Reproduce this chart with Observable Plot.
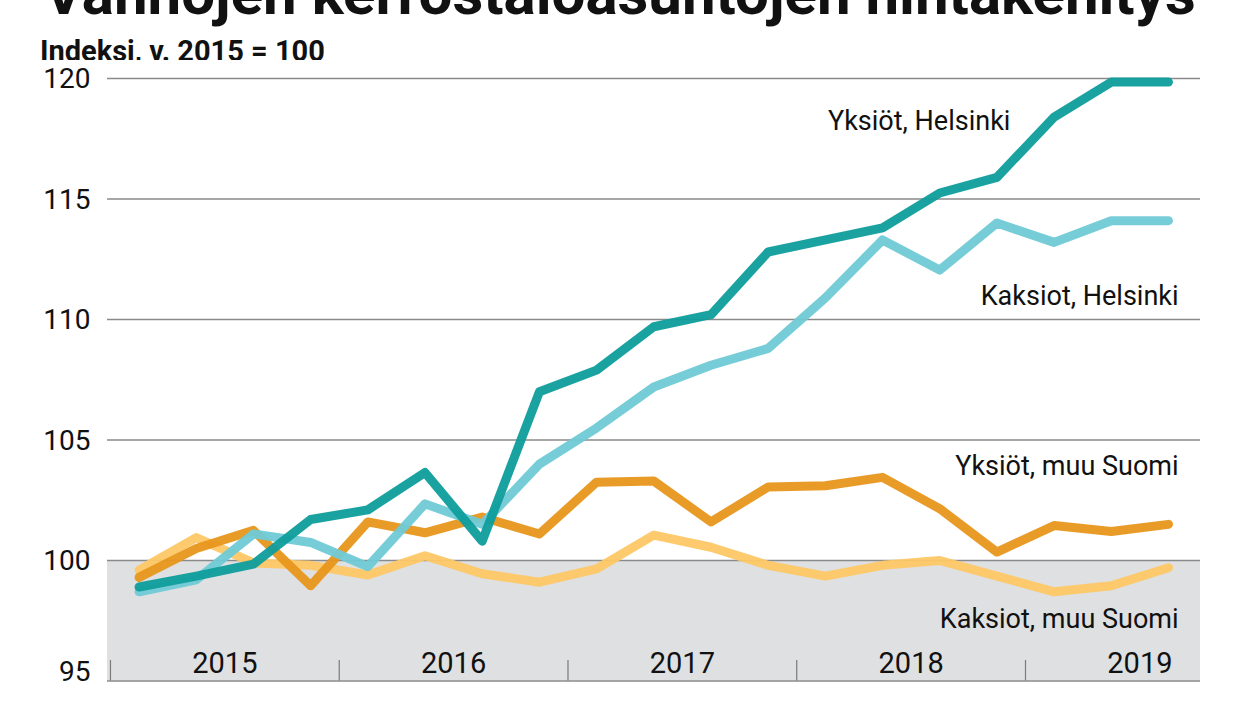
<!DOCTYPE html>
<html>
<head>
<meta charset="utf-8">
<script src="https://cdn.jsdelivr.net/npm/d3@7"></script>
<script src="https://cdn.jsdelivr.net/npm/@observablehq/plot@0.6"></script>
<style>
  html, body { margin: 0; padding: 0; background: #fff; }
  body { width: 1248px; height: 702px; position: relative; overflow: hidden; font-family: Roboto, "Noto Sans", sans-serif; color: #111; }
  #title { position: absolute; left: 44px; top: -36px; font: 700 60px/1 Roboto, sans-serif; white-space: nowrap; }
  #subtitle { position: absolute; left: 40px; top: 37px; font: 700 29px/1 Roboto, sans-serif; white-space: nowrap; }
  #chart { position: absolute; left: 0; top: 60px; }
</style>
</head>
<body>
<div id="title">Vanhojen kerrostaloasuntojen hintakehitys</div>
<div id="subtitle">Indeksi, v. 2015 = 100</div>
<div id="chart"></div>
<script>
const quarters = ["2015Q1","2015Q2","2015Q3","2015Q4","2016Q1","2016Q2","2016Q3","2016Q4","2017Q1","2017Q2","2017Q3","2017Q4","2018Q1","2018Q2","2018Q3","2018Q4","2019Q1","2019Q2","2019Q3"];
const yksiotHelsinki = [98.9, 99.35, 99.85, 101.7, 102.1, 103.65, 100.8, 107.0, 107.9, 109.7, 110.2, 112.8, 113.3, 113.8, 115.25, 115.9, 118.4, 119.85, 119.85];
const kaksiotHelsinki = [98.7, 99.2, 101.1, 100.75, 99.75, 102.35, 101.5, 104.0, 105.5, 107.2, 108.1, 108.8, 110.9, 113.3, 112.05, 114.0, 113.2, 114.1, 114.1];
const yksiotMuuSuomi = [99.3, 100.5, 101.25, 98.95, 101.6, 101.15, 101.8, 101.1, 103.25, 103.3, 101.6, 103.05, 103.1, 103.45, 102.15, 100.35, 101.45, 101.2, 101.5];
const kaksiotMuuSuomi = [99.6, 100.95, 99.9, 99.8, 99.4, 100.2, 99.45, 99.1, 99.65, 101.05, 100.55, 99.8, 99.35, 99.8, 100.0, 99.35, 98.7, 98.95, 99.7];
const years = [2015, 2016, 2017, 2018, 2019];
const yTicks = [100, 105, 110, 115, 120];
const seriesNames = ["Kaksiot, muu Suomi", "Yksiöt, muu Suomi", "Kaksiot, Helsinki", "Yksiöt, Helsinki"];
const seriesColors = ["#fdc866", "#e8961c", "#6fcad6", "#0e9d9c"];

// label anchors (in data units)
const labels = [
  {name: "Yksiöt, Helsinki", x: 2018.934, y: 117.85},
  {name: "Kaksiot, Helsinki", x: 2019.669, y: 110.6},
  {name: "Yksiöt, muu Suomi", x: 2019.669, y: 103.53},
  {name: "Kaksiot, muu Suomi", x: 2019.669, y: 97.2}
];

const qx = q => +q.slice(0, 4) + (+q.slice(5) - 0.5) / 4;
const allValues = [kaksiotMuuSuomi, yksiotMuuSuomi, kaksiotHelsinki, yksiotHelsinki];
const rows = [];
allValues.forEach((vals, si) => vals.forEach((v, i) => rows.push({series: seriesNames[si], x: qx(quarters[i]), value: v})));

const chart = Plot.plot({
  width: 1248,
  height: 642,
  marginLeft: 107,
  marginRight: 48,
  marginTop: 18,
  marginBottom: 21.5,
  style: {fontFamily: "Roboto, sans-serif", fontSize: "28px", color: "#111", background: "#fff"},
  x: {domain: [2014.987, 2019.765], axis: null},
  y: {domain: [95, 120], axis: null},
  color: {domain: seriesNames, range: seriesColors},
  marks: [
    Plot.rect([0], {y1: 95, y2: 100, fill: "#dfe0e2"}),
    Plot.ruleY(yTicks, {stroke: "#8a8a8a", strokeWidth: 1.3}),
    Plot.ruleY([95], {stroke: "#8a8a8a", strokeWidth: 1.3}),
    Plot.ruleX(years, {y1: 95, y2: 95.85, stroke: "#7a7a7a", strokeWidth: 1.2}),
    Plot.text(years, {x: d => d + 0.5, y: 95, text: d => String(d), dy: -8.5, lineAnchor: "bottom", fontSize: 29, fill: "#111"}),
    Plot.axisY(yTicks, {anchor: "left", tickSize: 0, tickPadding: 17, fontSize: 28, label: null, fill: "#111", dy: 1}),
    Plot.axisY([95], {anchor: "left", tickSize: 0, tickPadding: 17, fontSize: 28, label: null, dy: -9, fill: "#111"}),
    Plot.line(rows, {x: "x", y: "value", z: "series", stroke: "series", strokeWidth: 9, strokeLinecap: "round", strokeLinejoin: "round", strokeOpacity: 0.95}),
    Plot.text(labels, {x: "x", y: "y", text: "name", textAnchor: "end", lineAnchor: "bottom", fontSize: 27, fill: "#111"})
  ]
});
document.getElementById("chart").appendChild(chart);
</script>
</body>
</html>
